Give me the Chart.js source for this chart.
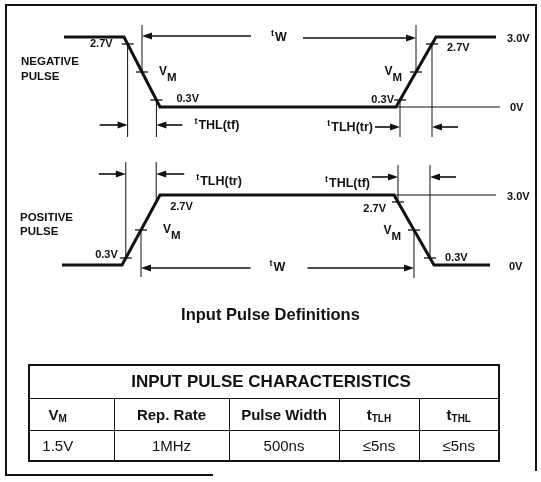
<!DOCTYPE html>
<html><head><meta charset="utf-8">
<script src="https://cdn.jsdelivr.net/npm/chart.js@4.4.0/dist/chart.umd.min.js"></script>
<style>
html,body{margin:0;padding:0;background:#fff;}
#wrap{position:relative;width:541px;height:482px;overflow:hidden;background:#fff;}
#c{position:absolute;left:0;top:0;}
#title{position:absolute;left:0;width:541px;top:305px;line-height:20px;text-align:center;font:bold 16.5px 'Liberation Sans',Arial,sans-serif;color:#111;}
#tbl{position:absolute;left:28px;top:364px;width:470px;border-collapse:collapse;font-family:'Liberation Sans',Arial,sans-serif;color:#111;border:2px solid #111;table-layout:fixed;}
#tbl td,#tbl th{border:1px solid #111;text-align:center;padding:0;}
#tbl .ttl{height:32px;font-size:17px;font-weight:bold;padding-left:14px;}
#tbl .hd{height:31px;font-size:15px;font-weight:bold;}
#tbl .vl{height:29px;font-size:15px;font-weight:normal;}
#tbl tr td:first-child{padding-right:28px;}
#tbl sub{font-size:10px;vertical-align:-2px;font-weight:bold;}
</style>
</head><body>
<div id="wrap">
<canvas id="c" width="541" height="482"></canvas>
<div id="title"></div>
<table id="tbl"><colgroup><col style="width:85px"><col style="width:115px"><col style="width:110px"><col style="width:80px"><col style="width:80px"></colgroup>
<tr><th colspan="5" class="ttl" id="tt"></th></tr><tr id="hdr"></tr><tr id="val"></tr></table>
</div>
<script>
// ---- data ----
const negPulseTimes = [16, 31, 40, 99, 109, 124];
const negPulseVolts = [3, 3, 0, 0, 3, 3];
const posPulseTimes = [15.5, 30.5, 40, 98.5, 108.5, 122.5];
const posPulseVolts = [0, 0, 3, 3, 0, 0];
const thresholdVolts = [0.3, 1.5, 2.7];
const thresholdLabels = ['0.3V', 'VM', '2.7V'];
const railVolts = [0, 3.0];
const railLabels = ['0V', '3.0V'];
const pulseNames = [['NEGATIVE', 'PULSE'], ['POSITIVE', 'PULSE']];
const timingLabels = [['t', 'W'], ['t', 'THL(tf)'], ['t', 'TLH(tr)']];
const figureTitle = 'Input Pulse Definitions';
const tableTitle = 'INPUT PULSE CHARACTERISTICS';
const tableHeaders = [['V', 'M'], ['Rep. Rate', ''], ['Pulse Width', ''], ['t', 'TLH'], ['t', 'THL']];
const tableValues = ['1.5V', '1MHz', '500ns', '\u22645ns', '\u22645ns'];

// ---- layout ----
const CW = 541, CH = 482;
function yRange(pix3, pix0) { const ppv = (pix0 - pix3) / 3; return { min: -(CH - pix0) / ppv, max: 3 + pix3 / ppv }; }
const rN = yRange(37, 107), rP = yRange(195, 265);
const F = "'Liberation Sans', Arial, Helvetica, sans-serif";
const INK = '#111';
function font(sz) { return 'bold ' + sz + 'px ' + F; }
function crossT(times, volts, i, v) { const t0 = times[i], t1 = times[i + 1], v0 = volts[i], v1 = volts[i + 1]; return t0 + (v - v0) / (v1 - v0) * (t1 - t0); }
function pts(chart, times, volts, seg, axis) {
  const xs = chart.scales.x, ys = chart.scales[axis];
  return thresholdVolts.map(v => ({ x: xs.getPixelForValue(crossT(times, volts, seg, v)), y: ys.getPixelForValue(v) }));
}

const diagram = {
  id: 'diagram',
  beforeDraw(chart) {
    const ctx = chart.ctx; ctx.save(); ctx.strokeStyle = INK; ctx.lineWidth = 2; ctx.lineCap = 'square';
    ctx.beginPath();
    ctx.moveTo(6, 475); ctx.lineTo(6, 5); ctx.lineTo(536, 5); ctx.lineTo(536, 470);
    ctx.moveTo(6, 475); ctx.lineTo(212, 475);
    ctx.stroke(); ctx.restore();
  },
  afterDatasetsDraw(chart) {
    const ctx = chart.ctx; ctx.save();
    ctx.strokeStyle = INK; ctx.fillStyle = INK; ctx.lineCap = 'butt';
    const xs = chart.scales.x, yN = chart.scales.yN, yP = chart.scales.yP;
    const line = (x1, y1, x2, y2, w) => { ctx.lineWidth = w || 1; ctx.beginPath(); ctx.moveTo(x1, y1); ctx.lineTo(x2, y2); ctx.stroke(); };
    const tick = p => line(p.x - 6, p.y, p.x + 6, p.y, 1.3);
    const arrow = (x1, x2, y) => { const d = Math.sign(x2 - x1); line(x1, y, x2 - d * 6, y, 1.6); ctx.beginPath(); ctx.moveTo(x2, y); ctx.lineTo(x2 - d * 10, y - 3.5); ctx.lineTo(x2 - d * 10, y + 3.5); ctx.closePath(); ctx.fill(); };
    const text = (s, x, y, sz, align) => { ctx.font = font(sz); ctx.textAlign = align || 'left'; ctx.textBaseline = 'middle'; ctx.fillText(s, x, y); };
    const vm = (x, y, align) => {
      ctx.font = font(12); const wV = ctx.measureText('V').width; ctx.font = font(11.5); const wM = ctx.measureText('M').width;
      const x0 = align === 'right' ? x - wV - wM : x;
      text('V', x0, y - 3, 12); text('M', x0 + wV, y + 3, 11.5);
    };
    const tlab = (lab, x, y, align) => {
      ctx.font = font(9); const wt = ctx.measureText(lab[0]).width; ctx.font = font(12.5); const ws = ctx.measureText(lab[1]).width;
      const w = wt + ws + 1; const x0 = align === 'right' ? x - w : align === 'center' ? x - w / 2 : x;
      text(lab[0], x0, y - 3, 9); text(lab[1], x0 + wt + 1, y + 1, 12.5);
    };
    const thr = (i, x, y, align) => { if (thresholdLabels[i] === 'VM') vm(x, y, align); else text(thresholdLabels[i], x, y, 11, align); };

    // ---------- negative pulse ----------
    const n3 = yN.getPixelForValue(railVolts[1]), n0 = yN.getPixelForValue(railVolts[0]);
    const f = pts(chart, negPulseTimes, negPulseVolts, 1, 'yN');
    const r = pts(chart, negPulseTimes, negPulseVolts, 3, 'yN');
    const refB = n0 + 30, arrY = n0 + 18, topV = n3 - 12;
    line(f[2].x, f[2].y, f[2].x, refB); line(f[0].x, f[0].y, f[0].x, refB); line(f[1].x, topV, f[1].x, f[1].y);
    line(r[0].x, r[0].y, r[0].x, refB); line(r[2].x, r[2].y, r[2].x, refB); line(r[1].x, topV, r[1].x, r[1].y);
    f.forEach(tick); r.forEach(tick);
    line(xs.getPixelForValue(negPulseTimes[3]), n0, xs.getPixelForValue(125), n0, 1.2);
    // tW
    const midN = (f[1].x + r[1].x) / 2;
    arrow(midN - 28, f[1].x, n3 - 1); arrow(midN + 24, r[1].x, n3 + 1);
    tlab(timingLabels[0], midN, n3, 'center');
    // tTHL / tTLH
    arrow(f[2].x - 28, f[2].x, arrY); arrow(f[0].x + 26, f[0].x, arrY);
    tlab(timingLabels[1], f[0].x + 38, arrY, 'left');
    arrow(r[0].x - 25, r[0].x, arrY + 2); arrow(r[2].x + 26, r[2].x, arrY + 2);
    tlab(timingLabels[2], r[0].x - 27, arrY + 2, 'right');
    // threshold labels
    thr(2, f[2].x - 15, f[2].y, 'right');
    thr(1, f[1].x + 17, f[1].y + 3, 'left');
    thr(0, f[0].x + 20, f[0].y - 1, 'left');
    thr(0, r[0].x - 6, r[0].y, 'right');
    thr(1, r[1].x - 14, r[1].y + 3, 'right');
    thr(2, r[2].x + 15, r[2].y + 4, 'left');
    text(railLabels[1], 507, n3 + 2, 11); text(railLabels[0], 510, n0 + 1, 11);
    text(pulseNames[0][0], 21, 62, 11.5); text(pulseNames[0][1], 21, 77, 11.5);

    // ---------- positive pulse ----------
    const p3 = yP.getPixelForValue(railVolts[1]), p0 = yP.getPixelForValue(railVolts[0]);
    const q = pts(chart, posPulseTimes, posPulseVolts, 1, 'yP');
    const g = pts(chart, posPulseTimes, posPulseVolts, 3, 'yP');
    const topRef = p3 - 33, arrY2 = p3 - 21;
    line(q[0].x, topRef, q[0].x, q[0].y); line(q[2].x, topRef, q[2].x, q[2].y); line(q[1].x, q[1].y, q[1].x, p0 + 12);
    line(g[2].x, topRef + 3, g[2].x, g[2].y); line(g[0].x, topRef + 3, g[0].x, g[0].y); line(g[1].x, g[1].y, g[1].x, p0 + 13);
    tick(q[0]); tick(q[1]); g.forEach(tick);
    line(xs.getPixelForValue(posPulseTimes[3]), p3, xs.getPixelForValue(124), p3, 1.2);
    const midP = (q[1].x + g[1].x) / 2;
    arrow(midP - 27, q[1].x, p0 + 3); arrow(midP + 30, g[1].x, p0 + 3);
    tlab(timingLabels[0], midP, p0 + 2, 'center');
    arrow(q[0].x - 27, q[0].x, arrY2); arrow(q[2].x + 28, q[2].x, arrY2);
    tlab(timingLabels[2], q[2].x + 40, arrY2 + 7, 'left');
    arrow(g[2].x - 26, g[2].x, arrY2 + 3); arrow(g[0].x + 26, g[0].x, arrY2 + 3);
    tlab(timingLabels[1], g[2].x - 28, arrY2 + 9, 'right');
    thr(0, q[0].x - 8, q[0].y - 3, 'right');
    thr(2, q[2].x + 14, q[2].y + 5, 'left');
    thr(1, q[1].x + 22, q[1].y + 3, 'left');
    thr(2, g[2].x - 12, g[2].y + 7, 'right');
    thr(1, g[1].x - 13, g[1].y + 4, 'right');
    thr(0, g[0].x + 15, g[0].y, 'left');
    text(railLabels[1], 507, p3 + 2, 11); text(railLabels[0], 509, p0 + 2, 11);
    text(pulseNames[1][0], 20, 218, 11.5); text(pulseNames[1][1], 20, 232, 11.5);
    ctx.restore();
  }
};

const toXY = (ts, vs) => ts.map((t, i) => ({ x: t, y: vs[i] }));
new Chart(document.getElementById('c'), {
  type: 'line',
  data: {
    datasets: [
      { data: toXY(negPulseTimes, negPulseVolts), yAxisID: 'yN', borderColor: INK, borderWidth: 3, pointRadius: 0, tension: 0, clip: false, borderJoinStyle: 'miter', fill: false },
      { data: toXY(posPulseTimes, posPulseVolts), yAxisID: 'yP', borderColor: INK, borderWidth: 3, pointRadius: 0, tension: 0, clip: false, borderJoinStyle: 'miter', fill: false }
    ]
  },
  options: {
    responsive: false, animation: false, events: [],
    layout: { padding: 0 },
    plugins: { legend: { display: false }, tooltip: { enabled: false }, title: { display: false } },
    scales: {
      x: { type: 'linear', min: 0, max: CW / 4, display: false },
      yN: { type: 'linear', min: rN.min, max: rN.max, display: false },
      yP: { type: 'linear', min: rP.min, max: rP.max, display: false }
    }
  },
  plugins: [diagram]
});

// ---- title and table (real HTML text) ----
document.getElementById('title').textContent = figureTitle;
document.getElementById('tt').textContent = tableTitle;
const hdr = document.getElementById('hdr'), val = document.getElementById('val');
tableHeaders.forEach(h => { const c = document.createElement('td'); c.className = 'hd'; c.appendChild(document.createTextNode(h[0])); if (h[1]) { const s = document.createElement('sub'); s.textContent = h[1]; c.appendChild(s); } hdr.appendChild(c); });
tableValues.forEach(v => { const c = document.createElement('td'); c.className = 'vl'; c.textContent = v; val.appendChild(c); });
</script>
</body></html>
